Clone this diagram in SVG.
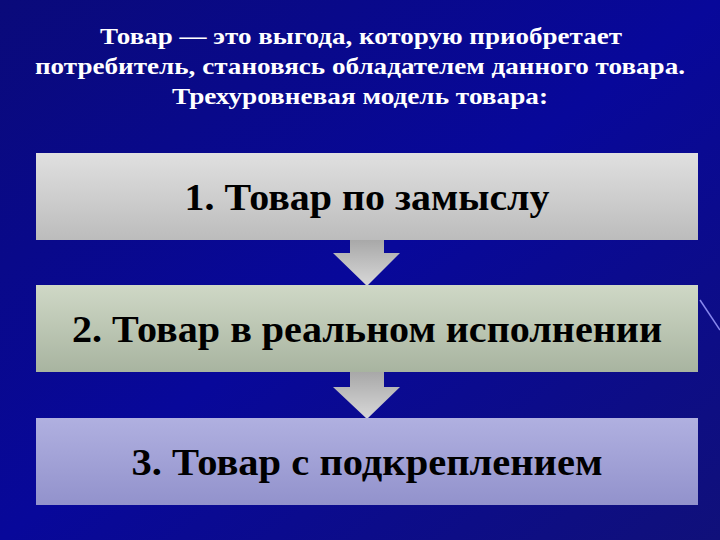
<svg xmlns="http://www.w3.org/2000/svg" width="720" height="540" viewBox="0 0 720 540">
<defs>
<linearGradient id="bg" x1="0" y1="0" x2="1" y2="1"><stop offset="0" stop-color="#0a0a7a"/><stop offset="0.5" stop-color="#08089a"/><stop offset="1" stop-color="#10107a"/></linearGradient>
<linearGradient id="g1" x1="0" y1="0" x2="0" y2="1"><stop offset="0" stop-color="#e0e0e0"/><stop offset="1" stop-color="#bcbcbc"/></linearGradient>
<linearGradient id="g2" x1="0" y1="0" x2="0" y2="1"><stop offset="0" stop-color="#cfd8c6"/><stop offset="1" stop-color="#a8b4a0"/></linearGradient>
<linearGradient id="g3" x1="0" y1="0" x2="0" y2="1"><stop offset="0" stop-color="#b0b0e0"/><stop offset="1" stop-color="#9292cc"/></linearGradient>
<linearGradient id="ga" x1="0" y1="0" x2="0" y2="1"><stop offset="0" stop-color="#a8a8a8"/><stop offset="1" stop-color="#d8d8d8"/></linearGradient>
<style>
.t{font-family:"Liberation Serif","Times New Roman",serif;font-weight:bold;fill:#fff;font-size:23px;text-anchor:middle}
.b{font-family:"Liberation Serif","Times New Roman",serif;font-weight:bold;fill:#000;font-size:38px;text-anchor:middle}
</style>
</defs>
<rect width="720" height="540" fill="url(#bg)"/>
<line x1="700" y1="300" x2="720" y2="330" stroke="#8888ee" stroke-width="1.5"/>
<g id="title">
<text class="t" x="361" y="44" textLength="522" lengthAdjust="spacingAndGlyphs">Товар — это выгода, которую приобретает</text>
<text class="t" x="360" y="74" textLength="650" lengthAdjust="spacingAndGlyphs">потребитель, становясь обладателем данного товара.</text>
<text class="t" x="360" y="104" textLength="376" lengthAdjust="spacingAndGlyphs">Трехуровневая модель товара:</text>
</g>
<g id="connectors">
<polygon points="350,240 384,240 384,253 400,253 367,286 333,253 350,253" fill="url(#ga)"/>
<polygon points="350,372 384,372 384,387 400,387 367,419 333,387 350,387" fill="url(#ga)"/>
</g>
<g id="n1"><rect x="36" y="153" width="662" height="87" fill="url(#g1)"/><text class="b" x="367" y="210" textLength="365" lengthAdjust="spacingAndGlyphs">1. Товар по замыслу</text></g>
<g id="n2"><rect x="36" y="285" width="662" height="87" fill="url(#g2)"/><text class="b" x="367" y="342" textLength="590" lengthAdjust="spacingAndGlyphs">2. Товар в реальном исполнении</text></g>
<g id="n3"><rect x="36" y="418" width="662" height="87" fill="url(#g3)"/><text class="b" x="367" y="475" textLength="471" lengthAdjust="spacingAndGlyphs">3. Товар с подкреплением</text></g>
</svg>
